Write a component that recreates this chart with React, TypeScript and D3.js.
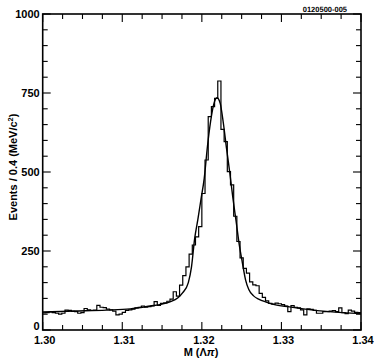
import React from "react";
import * as d3 from "d3";

// Histogram: 100 bins of 0.4 MeV from 1.30 to 1.34 GeV
const binStart = 1.3;
const binWidth = 0.0004;
const counts: number[] = [
  54, 55, 57, 55, 53, 50, 53, 63, 62, 59,
  58, 53, 55, 68, 64, 62, 63, 78, 72, 71,
  66, 64, 60, 48, 50, 56, 62, 64, 66, 70,
  72, 76, 72, 74, 76, 90, 78, 84, 86, 91,
  98, 121, 107, 142, 172, 200, 240, 269, 295, 327,
  432, 538, 675, 707, 733, 788, 635, 596, 501, 459,
  360, 280, 228, 195, 180, 152, 143, 140, 116, 103,
  92, 84, 82, 85, 83, 80, 76, 58, 77, 72,
  70, 64, 48, 67, 65, 62, 53, 53, 58, 58,
  60, 61, 58, 70, 55, 52, 63, 60, 56, 55,
];

// Fit curve
const fitMass: number[] = [
  1.3, 1.304, 1.308, 1.311, 1.3135, 1.315, 1.316, 1.317, 1.3176, 1.3183,
  1.3187, 1.3191, 1.3195, 1.3199, 1.3203, 1.3207, 1.3211, 1.3215, 1.3219, 1.3223,
  1.3227, 1.3231, 1.3235, 1.3239, 1.3243, 1.3247, 1.3251, 1.3255, 1.3259, 1.3265,
  1.3272, 1.328, 1.329, 1.331, 1.333, 1.336, 1.34,
];
const fitValue: number[] = [
  57, 60, 63, 67, 76, 82, 89, 102, 118, 150,
  200, 290, 350, 415, 480, 580, 660, 715, 735, 718,
  655, 575, 500, 418, 345, 270, 212, 158, 128, 108,
  97, 89, 81, 73, 66, 58, 52,
];

const xMajor: number[] = [1.3, 1.31, 1.32, 1.33, 1.34];
const xMajorLabels: string[] = ["1.30", "1.31", "1.32", "1.33", "1.34"];
const yMajor: number[] = [0, 250, 500, 750, 1000];
const yMajorLabels: string[] = ["0", "250", "500", "750", "1000"];

const W = 374;
const H = 360;
const left = 42.7;
const right = 361;
const top = 14;
const bottom = 330;
const FONT = "'Liberation Sans', Arial, Helvetica, sans-serif";

export default function App() {
  const x = d3.scaleLinear().domain([1.3, 1.34]).range([left, right]);
  const y = d3.scaleLinear().domain([0, 1000]).range([bottom, top]);

  const histPts: [number, number][] = counts.map((c, i) => [binStart + i * binWidth, c]);
  histPts.push([binStart + counts.length * binWidth, counts[counts.length - 1]]);
  const histPath = d3
    .line<[number, number]>()
    .x((d) => x(d[0]))
    .y((d) => y(d[1]))
    .curve(d3.curveStepAfter)(histPts) as string;

  const fitPts: [number, number][] = fitMass.map((m, i) => [m, fitValue[i]]);
  const fitPath = d3
    .line<[number, number]>()
    .x((d) => x(d[0]))
    .y((d) => y(d[1]))
    .curve(d3.curveMonotoneX)(fitPts) as string;

  const xMinor = d3.range(0, 17).map((i) => 1.3 + i * 0.0025);
  const yMinor = d3.range(0, 21).map((i) => i * 50);

  const majLen = 8;
  const minLen = 5;

  return (
    <svg
      width={W}
      height={H}
      style={{ position: "absolute", left: 0, top: 0, background: "#fff" }}
      fontFamily={FONT}
    >
      <rect x={0} y={0} width={W} height={H} fill="#fff" />
      {/* histogram */}
      <path d={histPath} fill="none" stroke="#000" strokeWidth={1.2} />
      {/* fit */}
      <path d={fitPath} fill="none" stroke="#000" strokeWidth={1.4} />

      {/* ticks x (bottom and top) */}
      {xMinor.map((v, i) => {
        const isMajor = i % 4 === 0;
        const len = isMajor ? majLen : minLen;
        const px = x(v);
        return (
          <g key={"xt" + i}>
            <line x1={px} x2={px} y1={bottom} y2={bottom - len} stroke="#000" strokeWidth={1.1} />
            <line x1={px} x2={px} y1={top} y2={top + len} stroke="#000" strokeWidth={1.1} />
          </g>
        );
      })}
      {yMinor.map((v, i) => {
        const isMajor = i % 5 === 0;
        const len = isMajor ? majLen : minLen;
        const py = y(v);
        return (
          <g key={"yt" + i}>
            <line x1={left} x2={left + len} y1={py} y2={py} stroke="#000" strokeWidth={1.1} />
            <line x1={right} x2={right - len} y1={py} y2={py} stroke="#000" strokeWidth={1.1} />
          </g>
        );
      })}

      {/* frame */}
      <rect
        x={left}
        y={top}
        width={right - left}
        height={bottom - top}
        fill="none"
        stroke="#000"
        strokeWidth={1.6}
      />

      {/* x labels */}
      {xMajor.map((v, i) => (
        <text
          key={"xl" + i}
          x={x(v) + 2}
          y={344}
          textAnchor="middle"
          fontSize={11}
          fontWeight="bold"
          fill="#000"
        >
          {xMajorLabels[i]}
        </text>
      ))}
      {/* y labels */}
      {yMajor.map((v, i) => (
        <text
          key={"yl" + i}
          x={left - 3}
          y={v === 0 ? y(v) : y(v) + 4}
          textAnchor="end"
          fontSize={11}
          fontWeight="bold"
          fill="#000"
        >
          {yMajorLabels[i]}
        </text>
      ))}

      {/* x title */}
      <text x={201} y={356} textAnchor="middle" fontSize={11} fontWeight="bold" fill="#000">
        M (Λ<tspan fontStyle="italic">π</tspan>)
      </text>

      {/* y title */}
      <text
        transform={`translate(16.5, 167) rotate(-90)`}
        textAnchor="middle"
        fontSize={11}
        fontWeight="bold"
        fill="#000"
      >
        Events / 0.4 (MeV/c
        <tspan fontSize={7.5} dy={-4}>2</tspan>
        <tspan dy={4}>)</tspan>
      </text>

      {/* figure id */}
      <text
        x={347}
        y={11.5}
        textAnchor="end"
        fontSize={7.5}
        fontWeight="bold"
        fill="#000"
        style={{ textRendering: "geometricPrecision" }}
      >
        0120500-005
      </text>
    </svg>
  );
}
